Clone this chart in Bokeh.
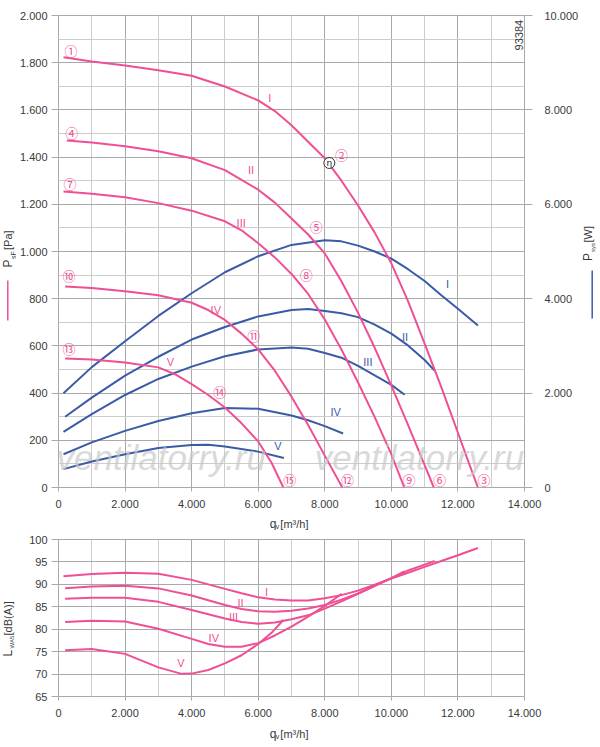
from math import pi

from bokeh.plotting import figure
from bokeh.layouts import column, row
from bokeh.models import Range1d, LinearAxis, FixedTicker, Label
from bokeh.core.properties import value
from bokeh.embed import file_html
from bokeh.resources import INLINE

PINK = "#ef4f94"
BLUE = "#3a5ba6"
GRID = "#a9a9a9"
GRID_MINOR = "#cdcdcd"
TXT = "#3a3a3a"
FONT = "Liberation Sans"

# --- axes ---
x_ticks = [0, 2000, 4000, 6000, 8000, 10000, 12000, 14000]
x_tick_labels = ["0", "2.000", "4.000", "6.000", "8.000", "10.000", "12.000", "14.000"]
x_minor = [1000, 3000, 5000, 7000, 9000, 11000, 13000]
pa_ticks = [0, 200, 400, 600, 800, 1000, 1200, 1400, 1600, 1800, 2000]
pa_tick_labels = ["0", "200", "400", "600", "800", "1.000", "1.200", "1.400", "1.600", "1.800", "2.000"]
pa_minor = [100, 300, 500, 700, 900, 1100, 1300, 1500, 1700, 1900]
w_ticks = [0, 2000, 4000, 6000, 8000, 10000]
w_tick_labels = ["0", "2.000", "4.000", "6.000", "8.000", "10.000"]
db_ticks = [65, 70, 75, 80, 85, 90, 95, 100]

# --- static pressure psF [Pa], curves I..V ---
p1_q = [150, 1000, 2000, 3000, 4000, 5000, 6000, 6500, 7000, 7500, 8000, 8500, 9000, 9500, 10000, 10500, 11000, 11500, 12000, 12300, 12600]
p1 = [1823, 1805, 1788, 1768, 1745, 1699, 1640, 1595, 1535, 1465, 1395, 1300, 1195, 1080, 950, 790, 610, 425, 232, 115, 0]
p2_q = [250, 1000, 2000, 3000, 4000, 5000, 6000, 6500, 7000, 7500, 8000, 8500, 9000, 9500, 10000, 10500, 11000, 11276]
p2 = [1470, 1462, 1446, 1425, 1395, 1345, 1262, 1207, 1140, 1072, 992, 874, 740, 592, 432, 265, 95, 0]
p3_q = [150, 1000, 2000, 3000, 4000, 5000, 5500, 6000, 6500, 7000, 7500, 8000, 8500, 9000, 9500, 10000, 10388]
p3 = [1254, 1245, 1230, 1205, 1173, 1128, 1090, 1035, 975, 905, 820, 712, 585, 445, 298, 140, 0]
p4_q = [200, 1000, 2000, 3000, 4000, 4500, 5000, 5500, 6000, 6500, 7000, 7500, 8000, 8526]
p4 = [852, 845, 832, 815, 783, 752, 710, 652, 585, 495, 385, 265, 135, 0]
p5_q = [200, 1000, 2000, 3000, 3500, 4000, 4500, 5000, 5500, 6000, 6400, 6756]
p5 = [547, 542, 530, 509, 480, 438, 392, 339, 272, 195, 105, 0]

# --- system power Psys [W], curves I..V ---
w1_q = [150, 1000, 2000, 3000, 4000, 5000, 6000, 7000, 8000, 8500, 9000, 9500, 10000, 10500, 11000, 11500, 12000, 12600]
w1 = [1995, 2550, 3100, 3635, 4115, 4560, 4900, 5140, 5240, 5215, 5125, 5000, 4850, 4625, 4375, 4075, 3785, 3430]
w2_q = [200, 1000, 2000, 3000, 4000, 5000, 6000, 7000, 7500, 8000, 8500, 9000, 9500, 10000, 10500, 11000, 11300]
w2 = [1500, 1905, 2370, 2770, 3135, 3400, 3625, 3760, 3780, 3740, 3690, 3610, 3450, 3260, 3010, 2700, 2475]
w3_q = [150, 1000, 2000, 3000, 4000, 5000, 6000, 7000, 7500, 8000, 8500, 9000, 9500, 10000, 10400]
w3 = [1180, 1555, 1960, 2300, 2560, 2780, 2925, 2965, 2940, 2850, 2750, 2575, 2375, 2175, 1965]
w4_q = [150, 1000, 2000, 3000, 4000, 5000, 6000, 7000, 7500, 8000, 8550]
w4 = [705, 955, 1200, 1410, 1575, 1685, 1670, 1525, 1425, 1300, 1145]
w5_q = [150, 1000, 2000, 3000, 4000, 4500, 5000, 6000, 6770]
w5 = [390, 550, 705, 835, 900, 905, 870, 760, 625]

# --- sound power LWA5 [dB(A)], curves I..V ---
n1_q = [150, 1000, 2000, 3000, 4000, 5000, 5500, 6000, 6500, 7000, 7500, 8000, 8500, 9000, 9500, 10000, 10500, 11000, 11500, 12000, 12600]
n1 = [91.8, 92.3, 92.6, 92.35, 91.0, 89.0, 88.0, 87.1, 86.6, 86.4, 86.4, 86.9, 87.6, 88.6, 89.9, 91.3, 92.6, 93.9, 95.2, 96.5, 98.1]
n2_q = [200, 1000, 2000, 3000, 4000, 5000, 5500, 6000, 6500, 7000, 7500, 8000, 8500, 9000, 9500, 10000, 10500, 11000, 11300]
n2 = [89.15, 89.5, 89.7, 89.1, 87.5, 85.4, 84.5, 84.0, 83.9, 84.1, 84.6, 85.4, 86.6, 88.0, 89.7, 91.4, 93.1, 94.4, 95.2]
n3_q = [200, 1000, 2000, 3000, 4000, 5000, 5500, 6000, 6500, 7000, 7500, 8000, 8500, 9000, 9500, 10000, 10390]
n3 = [86.8, 87.0, 87.0, 86.1, 84.3, 82.4, 81.6, 81.2, 81.5, 82.2, 83.1, 84.6, 86.2, 87.9, 89.6, 91.4, 92.9]
n4_q = [200, 1000, 2000, 3000, 4000, 4500, 5000, 5500, 6000, 6500, 7000, 7500, 8000, 8510]
n4 = [81.6, 81.9, 81.7, 80.1, 77.85, 76.7, 76.1, 76.1, 76.9, 78.6, 80.6, 82.8, 85.2, 87.9]
n5_q = [200, 1000, 2000, 3000, 3700, 4000, 4500, 5000, 5500, 6000, 6400, 6760]
n5 = [75.3, 75.6, 74.5, 71.5, 70.05, 70.1, 70.9, 72.4, 74.2, 76.7, 79.2, 82.1]

# --- curve annotations ---
roman = ["I", "II", "III", "IV", "V"]
p_lab_x = [6348, 5785, 5488, 4726, 3361]
p_lab_y = [1652, 1347, 1122, 752, 530]
w_lab_x = [11688, 10412, 9294, 8327, 6595]
w_lab_y = [4310, 3195, 2665, 1605, 870]
n_lab_x = [6250, 5467, 5260, 4666, 3678]
n_lab_y = [88.4, 85.8, 82.7, 78.1, 72.5]

pt_text = ["①", "④", "⑦", "⑩", "⑬", "②", "⑤", "⑧", "⑪", "⑭", "③", "⑥", "⑨", "⑫", "⑮"]
pt_x = [377, 395, 347, 317, 317, 8505, 7743, 7446, 5865, 4844, 12786, 11451, 10531, 8683, 6950]
pt_y = [1851, 1503, 1289, 898, 587, 1411, 1107, 902, 646, 406, 36, 36, 36, 36, 36]
eta_x = [8137]
eta_y = [1375]


def style(fig):
    fig.background_fill_color = "white"
    fig.border_fill_color = "white"
    fig.outline_line_color = GRID
    fig.xgrid.grid_line_color = GRID
    fig.ygrid.grid_line_color = GRID
    fig.xgrid.minor_grid_line_color = GRID_MINOR
    fig.ygrid.minor_grid_line_color = GRID_MINOR
    for ax in fig.axis:
        ax.axis_line_color = None
        ax.major_tick_line_color = GRID
        ax.minor_tick_line_color = None
        ax.major_label_text_font = FONT
        ax.major_label_text_font_size = "11px"
        ax.major_label_text_color = TXT
    fig.xaxis.major_tick_in = 0
    fig.xaxis.major_tick_out = 4
    fig.xaxis.major_label_standoff = 8
    fig.xaxis.ticker = FixedTicker(ticks=x_ticks, minor_ticks=x_minor)
    fig.xaxis.major_label_overrides = dict(zip(x_ticks, x_tick_labels))
    fig.yaxis.major_tick_in = 0
    fig.yaxis.major_tick_out = 7
    fig.yaxis.major_label_standoff = 4


def text_fig(w, h):
    # blank strip that only carries axis titles (page pixel coordinates)
    f = figure(width=w, height=h, x_range=Range1d(0, w), y_range=Range1d(h, 0),
               output_backend="svg", toolbar_location=None, min_border=0,
               x_axis_location=None, y_axis_location=None)
    f.grid.visible = False
    f.outline_line_color = None
    f.background_fill_color = "white"
    f.border_fill_color = "white"
    return f


def put(fig, x, y, text, size="11px", angle=0.0, color=TXT):
    fig.text(x=[x], y=[y], text=[text], angle=angle, text_font=value(FONT),
             text_font_size=size, text_color=color, text_align="left",
             text_baseline="middle")


# ================= top: pressure and power =================
p = figure(width=565, height=512, x_range=Range1d(0, 14000), y_range=Range1d(0, 2000),
           output_backend="svg", toolbar_location=None,
           min_border_left=39, min_border_right=54, min_border_top=15, min_border_bottom=25)
p.extra_y_ranges = {"psys": Range1d(0, 10000)}
p.add_layout(LinearAxis(y_range_name="psys"), "right")
style(p)
p.yaxis[0].ticker = FixedTicker(ticks=pa_ticks, minor_ticks=pa_minor)
p.yaxis[0].major_label_overrides = dict(zip(pa_ticks, pa_tick_labels))
p.yaxis[1].ticker = FixedTicker(ticks=w_ticks)
p.yaxis[1].major_label_overrides = dict(zip(w_ticks, w_tick_labels))
p.yaxis[1].major_tick_out = 8
p.yaxis[1].major_label_standoff = 12

# watermark
for wx in [-60, 7700]:
    p.add_layout(Label(x=wx, y=126, text="ventilatorry.ru", text_font=FONT,
                       text_font_size="35px", text_font_style="italic",
                       text_color="#c8c8c8", text_alpha=0.7, text_baseline="middle"))

for q, v in [(w1_q, w1), (w2_q, w2), (w3_q, w3), (w4_q, w4), (w5_q, w5)]:
    p.line(q, v, y_range_name="psys", line_color=BLUE, line_width=2)
for q, v in [(p1_q, p1), (p2_q, p2), (p3_q, p3), (p4_q, p4), (p5_q, p5)]:
    p.line(q, v, line_color=PINK, line_width=2)

p.text(x=p_lab_x, y=p_lab_y, text=roman, text_color=PINK, text_font=value(FONT),
       text_font_size="11px", text_align="center", text_baseline="middle")
p.text(x=w_lab_x, y=w_lab_y, text=roman, y_range_name="psys", text_color=BLUE,
       text_font=value(FONT), text_font_size="11px", text_align="center", text_baseline="middle")
p.text(x=pt_x, y=pt_y, text=pt_text, text_color=PINK, text_font=value("Noto Sans CJK JP"),
       text_font_size="13px", text_align="center", text_baseline="middle")
p.scatter(x=eta_x, y=eta_y, marker="circle", size=11, fill_color="white",
          line_color="#333333", line_width=1)
p.text(x=eta_x, y=eta_y, text=["η"], text_color="#222222", text_font=value("DejaVu Sans"),
       text_font_size="9px", text_align="center", text_baseline="middle")
p.text(x=[13845], y=[1852], text=["93384"], angle=pi / 2, text_color=TXT,
       text_font=value(FONT), text_font_size="11px", text_baseline="middle")

# ================= bottom: sound power =================
n = figure(width=565, height=193, x_range=Range1d(0, 14000), y_range=Range1d(65, 100),
           output_backend="svg", toolbar_location=None,
           min_border_left=39, min_border_right=54, min_border_top=9, min_border_bottom=27)
style(n)
n.yaxis.ticker = FixedTicker(ticks=db_ticks)

for q, v in [(n1_q, n1), (n2_q, n2), (n3_q, n3), (n4_q, n4), (n5_q, n5)]:
    n.line(q, v, line_color=PINK, line_width=2)
n.text(x=n_lab_x, y=n_lab_y, text=roman, text_color=PINK, text_font=value(FONT),
       text_font_size="11px", text_align="center", text_baseline="middle")

# ================= axis titles =================
q1 = text_fig(565, 18)
put(q1, 256, 11.5, "q", size="12px")
put(q1, 263.5, 14, "v", size="7px")
put(q1, 269, 11.5, "[m³/h]")
q2 = text_fig(565, 22)
put(q2, 256, 10, "q", size="12px")
put(q2, 263.5, 12.5, "v", size="7px")
put(q2, 269, 10, "[m³/h]")

left = text_fig(16, 745)
put(left, 7, 267, "P", size="12px", angle=pi / 2)
put(left, 12.5, 258.5, "sF", size="7px", angle=pi / 2)
put(left, 7, 249.5, "[Pa]", angle=pi / 2)
left.line([7.3, 7.3], [280, 320], line_color=PINK, line_width=1.5)
put(left, 7, 656, "L", size="12px", angle=pi / 2)
put(left, 11.5, 648, "WA5", size="6px", angle=pi / 2)
put(left, 7, 635, "[dB(A)]", angle=pi / 2)

right = text_fig(19, 745)
put(right, 6.5, 260.5, "P", size="12px", angle=pi / 2)
put(right, 11.5, 251.5, "sys", size="6px", angle=pi / 2)
put(right, 6.5, 242, "[W]", angle=pi / 2)
right.line([10.7, 10.7], [270, 318], line_color=BLUE, line_width=1.5)

layout = row(left, column(p, q1, n, q2), right)
open("out.html", "w").write(file_html(layout, INLINE))
